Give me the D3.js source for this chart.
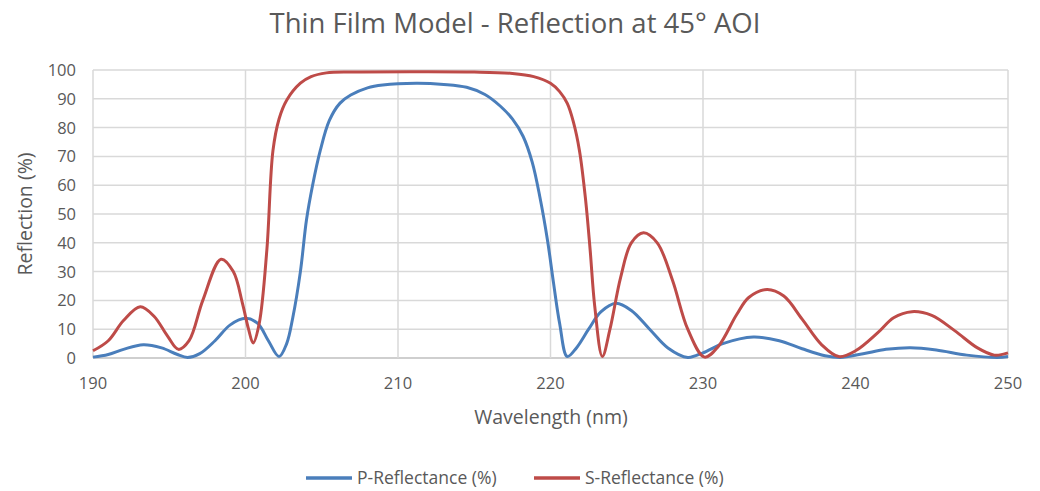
<!DOCTYPE html>
<html>
<head>
<meta charset="utf-8">
<script src="https://cdn.jsdelivr.net/npm/d3@7"></script>
<style>
  body { margin: 0; background: #fff; }
  text { font-family: "Open Sans", "Noto Sans", sans-serif; fill: #595959; }
</style>
</head>
<body>
<div id="chart"></div>
<script>
// P-reflectance
const pWave = [190, 191, 192, 193.3, 194.5, 195.5, 196.2, 197, 198, 199, 200, 200.8, 201.5, 202.2, 202.7,
  203.1, 203.6, 204.0, 204.4, 204.9, 205.5, 206.2, 206.9, 208, 209, 211.2, 213, 214.5, 215.7, 216.7,
  217.5, 218.2, 218.8, 219.3, 219.8, 220.2, 220.6, 221.1, 221.7, 222.5, 223.3, 224.3, 225.3, 226.5,
  227.7, 229.0, 230, 231.3, 233.3, 235, 236.5, 238, 239, 240.5, 242, 243.6, 245.3, 247.3, 249.3, 250];
const pVals = [0.3, 1.2, 3.0, 4.6, 3.5, 1.3, 0.2, 1.5, 6.0, 11.5, 13.8, 12.0, 6.0, 0.5, 5.0,
  14, 30, 48, 60, 72, 82.5, 88.5, 91.3, 93.8, 94.8, 95.4, 95, 94.0, 91.5, 87.5,
  83, 77, 68, 56, 41, 26, 12, 0.5, 3.5, 10, 16, 19, 16.5, 10,
  3.5, 0.2, 1.8, 5, 7.3, 6.0, 3.2, 0.8, 0.2, 1.5, 3.0, 3.6, 2.8, 1.0, 0.2, 0.5];

// S-reflectance
const sWave = [190, 191, 192, 193.1, 194.0, 194.9, 195.6, 196.3, 197.2, 198.4, 199.2, 199.8, 200.2, 200.5,
  200.9, 201.4, 201.8, 202.2, 202.7, 203.6, 204.3, 205.3, 207, 211, 215, 217.5, 218.9, 220, 220.6,
  221.1, 221.5, 221.9, 222.3, 222.6, 222.9, 223.4, 223.9, 224.6, 225.3, 226.1, 227, 228, 229, 230.1,
  231, 232.2, 233, 234.2, 235.3, 236.5, 237.8, 238.9, 240, 241.5, 242.5, 243.7, 245, 246.5, 248, 249.1, 250];
const sVals = [2.5, 6, 13, 17.8, 14.5, 7.5, 3.0, 6, 20, 34.3, 30, 19, 10, 5.2,
  12, 37.5, 72, 83, 89.5, 95.4, 97.7, 99, 99.3, 99.4, 99.3, 98.8, 97.7, 95.4, 92.5,
  88.4, 82, 72, 55, 37.5, 18, 0.5, 10, 28, 40, 43.5, 40, 27, 10, 0.3,
  4, 15, 21, 23.8, 21.5, 13.5, 4.5, 0.5, 2.5, 9, 14, 16.1, 14.8, 9.5, 3.5, 1, 1.8];

const xTicks = [190, 200, 210, 220, 230, 240, 250];
const yTicks = [0, 10, 20, 30, 40, 50, 60, 70, 80, 90, 100];

const series = [
  { name: 'P-Reflectance (%)', wave: pWave, vals: pVals, color: '#4a7ebb' },
  { name: 'S-Reflectance (%)', wave: sWave, vals: sVals, color: '#be4b48' }
];

const width = 1040, height = 491;
const margin = { left: 93, right: 32, top: 70, bottom: 133 };

const svg = d3.select('#chart').append('svg')
  .attr('width', width)
  .attr('height', height);

const x = d3.scaleLinear().domain([190, 250]).range([margin.left, width - margin.right]);
const y = d3.scaleLinear().domain([0, 100]).range([height - margin.bottom, margin.top]);

// grid
svg.append('g')
  .selectAll('line')
  .data(yTicks)
  .enter().append('line')
  .attr('x1', x(190)).attr('x2', x(250))
  .attr('y1', d => y(d)).attr('y2', d => y(d))
  .attr('stroke', d => d === 0 ? '#bfbfbf' : '#d9d9d9')
  .attr('stroke-width', 1.5);

svg.append('g')
  .selectAll('line')
  .data(xTicks)
  .enter().append('line')
  .attr('x1', d => x(d)).attr('x2', d => x(d))
  .attr('y1', y(0)).attr('y2', y(100))
  .attr('stroke', '#d9d9d9')
  .attr('stroke-width', 1.5);

// tick labels
svg.append('g')
  .selectAll('text')
  .data(yTicks)
  .enter().append('text')
  .attr('x', x(190) - 17)
  .attr('y', d => y(d) + 6)
  .attr('text-anchor', 'end')
  .style('font-size', '16.5px')
  .text(d => d);

svg.append('g')
  .selectAll('text')
  .data(xTicks)
  .enter().append('text')
  .attr('x', d => x(d))
  .attr('y', y(0) + 31)
  .attr('text-anchor', 'middle')
  .style('font-size', '16.5px')
  .text(d => d);

// lines
const line = d3.line().curve(d3.curveCatmullRom.alpha(0.5));
series.forEach(s => {
  svg.append('path')
    .attr('d', line(s.wave.map((w, i) => [x(w), y(s.vals[i])])))
    .attr('fill', 'none')
    .attr('stroke', s.color)
    .attr('stroke-width', 3)
    .attr('stroke-linejoin', 'round');
});

// titles
svg.append('text')
  .attr('x', 515).attr('y', 33)
  .attr('text-anchor', 'middle')
  .style('font-size', '27.5px')
  .text('Thin Film Model - Reflection at 45° AOI');

svg.append('text')
  .attr('x', 551).attr('y', 424)
  .attr('text-anchor', 'middle')
  .style('font-size', '19.5px')
  .text('Wavelength (nm)');

svg.append('text')
  .attr('transform', `translate(32, ${y(50)}) rotate(-90)`)
  .attr('text-anchor', 'middle')
  .style('font-size', '19.5px')
  .text('Reflection (%)');

// legend
const legendX = [306, 534];
series.forEach((s, i) => {
  const g = svg.append('g').attr('transform', `translate(${legendX[i]}, 478)`);
  g.append('line')
    .attr('x1', 0).attr('x2', 46)
    .attr('stroke', s.color)
    .attr('stroke-width', 3.5);
  g.append('text')
    .attr('x', 51).attr('y', 6)
    .style('font-size', '17.5px')
    .text(s.name);
});
</script>
</body>
</html>
